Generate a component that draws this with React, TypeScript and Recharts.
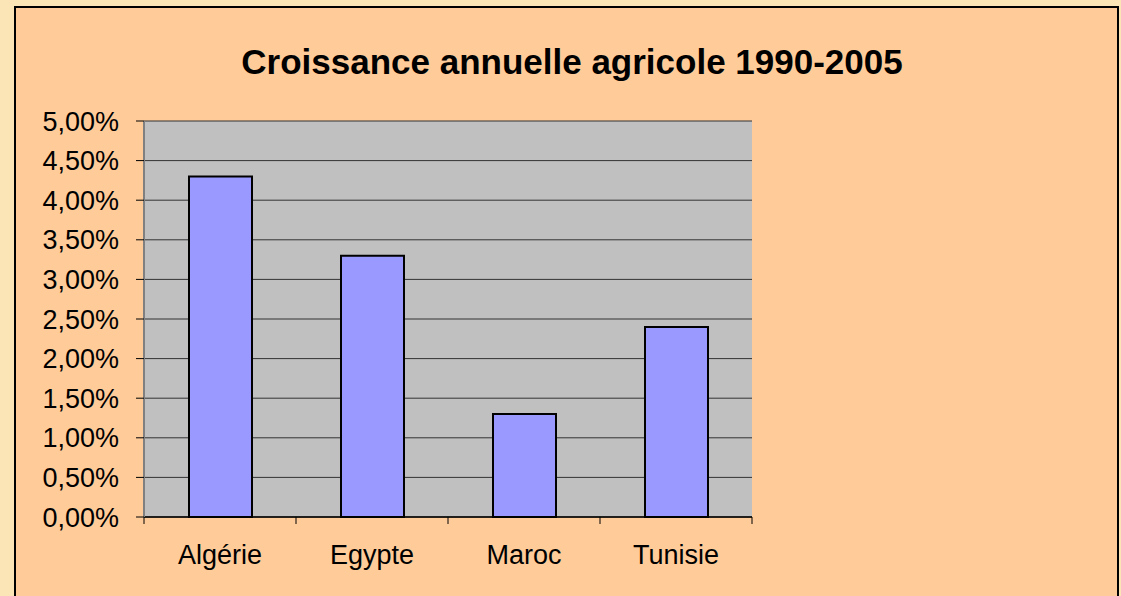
import { Bar, BarChart, CartesianGrid, XAxis, YAxis } from 'recharts';

const countries = ['Algérie', 'Egypte', 'Maroc', 'Tunisie'];
const growth = [4.3, 3.3, 1.3, 2.4];
const yTicks = [0, 0.5, 1, 1.5, 2, 2.5, 3, 3.5, 4, 4.5, 5];

const data = countries.map((c, i) => ({ country: c, growth: growth[i] }));

const font = '"Liberation Sans", Arial, sans-serif';
const fmt = (v: number) => v.toFixed(2).replace('.', ',') + '%';

function CountryTick(props: any) {
  const { x, y, payload, index, visibleTicksCount } = props;
  const off = payload?.offset ?? 0;
  const last = index === visibleTicksCount - 1;
  return (
    <g>
      <line x1={x - off} y1={y} x2={x - off} y2={y + 7} stroke="#000" />
      {last && <line x1={x + off} y1={y} x2={x + off} y2={y + 7} stroke="#000" />}
      <text x={x} y={y + 47} textAnchor="middle" fontSize={27} fontFamily={font} fill="#000">
        {payload.value}
      </text>
    </g>
  );
}

export default function App() {
  return (
    <div style={{ position: 'fixed', left: 0, top: 0, width: 1121, height: 596, background: '#FBE5B6', overflow: 'hidden' }}>
      <div
        style={{
          position: 'absolute',
          left: 14,
          top: 6,
          width: 1101,
          height: 620,
          background: '#FFCC99',
          border: '2px solid #000',
        }}
      />
      <div
        style={{
          position: 'absolute',
          left: 0,
          top: 44,
          width: 1144,
          textAlign: 'center',
          fontFamily: font,
          fontWeight: 'bold',
          fontSize: 35,
          lineHeight: '35px',
          color: '#000',
        }}
      >
        Croissance annuelle agricole 1990-2005
      </div>
      <div style={{ position: 'absolute', left: 0, top: 0 }}>
        <BarChart width={1121} height={596} data={data} margin={{ top: 121, right: 369, bottom: 0, left: 0 }}>
          <CartesianGrid vertical={false} stroke="#333" fill="#C0C0C0" fillOpacity={1} />
          <XAxis
            dataKey="country"
            height={79}
            tickLine={false}
            tickSize={0}
            tickMargin={0}
            tick={<CountryTick />}
            axisLine={{ stroke: '#000', strokeWidth: 1.5 }}
            interval={0}
          />
          <XAxis xAxisId="top" dataKey="country" orientation="top" height={0} tick={false} tickLine={false} axisLine={{ stroke: '#808080', strokeWidth: 2 }} />
          <YAxis
            width={144}
            domain={[0, 5]}
            ticks={yTicks}
            tickFormatter={fmt}
            tickSize={8}
            tickMargin={17}
            tickLine={{ stroke: '#000' }}
            axisLine={{ stroke: '#808080', strokeWidth: 2 }}
            tick={{ fontSize: 27, fontFamily: font, fill: '#000' }}
            interval={0}
          />
          <YAxis yAxisId="right" orientation="right" width={0} domain={[0, 5]} tick={false} tickLine={false} axisLine={{ stroke: '#808080', strokeWidth: 2 }} />
          <Bar dataKey="growth" fill="#9999FF" stroke="#000" strokeWidth={2} barSize={63} isAnimationActive={false} />
        </BarChart>
      </div>
    </div>
  );
}
